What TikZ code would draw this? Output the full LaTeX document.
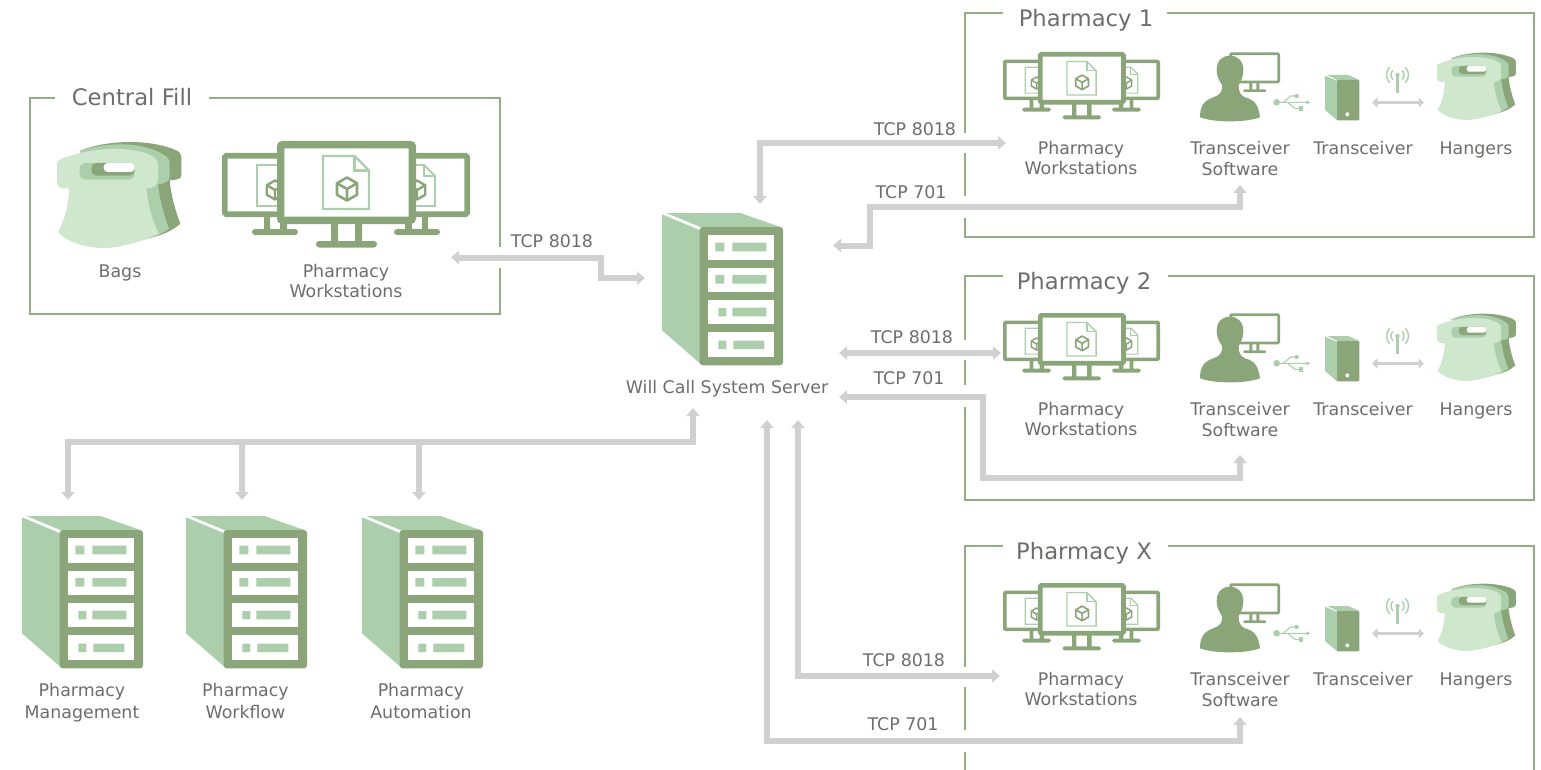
\documentclass[tikz,border=0pt]{standalone}
\usepackage{fontspec}
\setmainfont{DejaVu Sans}
\usetikzlibrary{arrows.meta}
\definecolor{gdark}{HTML}{8AA678}
\definecolor{gmid}{HTML}{ABCFAB}
\definecolor{glight}{HTML}{CFE7CD}
\definecolor{gbox}{HTML}{93AE85}
\definecolor{gconn}{HTML}{D0D0D0}
\definecolor{gtext}{HTML}{6B6E6B}
\newcommand{\wsdoc}[5]{% x y w h fold
  \draw[gmid,fill=white] (#1,#2) -- ({#1+#3-#5},#2) -- ({#1+#3},{#2+#5}) -- ({#1+#3},{#2+#4}) -- (#1,{#2+#4}) -- cycle;
  \draw[gmid] ({#1+#3-#5},#2) -- ({#1+#3-#5},{#2+#5}) -- ({#1+#3},{#2+#5});
}
\newcommand{\wscube}[3]{% cx cy r
  \draw[gdark,line join=round] (#1,{#2-#3}) -- ({#1+.87*#3},{#2-.5*#3}) -- ({#1+.87*#3},{#2+.5*#3}) -- (#1,{#2+#3}) -- ({#1-.87*#3},{#2+.5*#3}) -- ({#1-.87*#3},{#2-.5*#3}) -- cycle;
  \draw[gdark,line join=round] ({#1-.87*#3},{#2-.5*#3}) -- (#1,#2) -- ({#1+.87*#3},{#2-.5*#3}) (#1,#2) -- (#1,{#2+#3});
}
\tikzset{
  x=1pt,y=-1pt,
  lbl/.style={font=\fontsize{17.4}{21}\selectfont,text=gtext,align=center,inner sep=0pt,yshift=-2pt},
  ttl/.style={font=\fontsize{22.7}{26}\selectfont,text=gtext,inner sep=0pt,yshift=-3pt},
  boxline/.style={gbox,line width=1.1pt},
  conn/.style={gconn,line width=6pt,miter limit=10,-{Triangle[length=8pt,width=13pt]}},
  conntwo/.style={gconn,line width=6pt,miter limit=10,{Triangle[length=8pt,width=13pt]}-{Triangle[length=8pt,width=13pt]}},
  pics/wstation/.style={code={
    \begin{scope}[scale=#1]
      \foreach \m in {0,1}{
        \begin{scope}[shift={(\m*248,0)},xscale={1-2*\m}]
          \fill[gdark] (42,76) rectangle (48,90) (58,76) rectangle (65,90);
          \fill[gdark,rounded corners=#1*3pt] (30,88) rectangle (76,94);
          \draw[gdark,fill=white,line width=#1*5.6pt,rounded corners=#1*1.5pt] (2.8,14.8) rectangle (70,73.2);
        \end{scope}
      }
      \begin{scope}[line width=#1*1.9pt]
        \wsdoc{35}{24}{36}{41}{11}
        \wsdoc{177}{24}{36}{41}{11}
      \end{scope}
      \begin{scope}[line width=#1*2.4pt]
        \wscube{53}{49}{9.5}
        \wscube{195}{49}{9.5}
      \end{scope}
      \fill[gdark] (109,80) rectangle (116,102) (133,80) rectangle (140,102);
      \fill[gdark,rounded corners=#1*3pt] (94,100) rectangle (155,106.5);
      \draw[gdark,fill=white,line width=#1*7.4pt,rounded corners=#1*2pt] (58.7,3.7) rectangle (190.3,79.3);
      \begin{scope}[line width=#1*2.2pt]
        \wsdoc{101}{15}{46}{53}{14.5}
      \end{scope}
      \begin{scope}[line width=#1*2.6pt]
        \wscube{125}{48}{11.5}
      \end{scope}
    \end{scope}
  }},
  pics/bagicon/.style={code={
    \begin{scope}[scale=#1/3,shift={(-82,-62)}]
      \fill[gdark] (150,92) .. controls (230,58) and (360,55) .. (440,90) .. controls (450,95) and (455,100) .. (455,110) -- (455,165) .. controls (455,175) and (445,178) .. (420,180) .. controls (425,230) and (440,280) .. (452,310) .. controls (430,330) and (400,345) .. (350,355) -- cycle;
      \fill[gmid] (150,92) .. controls (230,65) and (340,62) .. (405,105) .. controls (415,112) and (420,118) .. (420,130) -- (420,170) .. controls (420,182) and (405,190) .. (385,192) .. controls (390,240) and (405,290) .. (418,325) .. controls (390,345) and (360,355) .. (300,370) -- cycle;
      \fill[glight] (82,125) .. controls (82,115) and (180,82) .. (270,86) .. controls (330,88) and (385,105) .. (385,130) -- (385,175) .. controls (385,192) and (375,204) .. (350,204) .. controls (355,260) and (372,310) .. (388,340) .. controls (330,365) and (270,383) .. (220,383) .. controls (170,383) and (110,365) .. (85,335) .. controls (105,300) and (118,250) .. (118,204) -- (100,204) .. controls (88,204) and (82,195) .. (82,185) -- cycle;
      \fill[gmid,rounded corners=#1*6pt] (150,128) rectangle (315,178);
      \fill[gdark,rounded corners=#1*5pt] (185,128) rectangle (315,166);
      \fill[white,rounded corners=#1*4pt] (222,128) rectangle (315,155);
    \end{scope}
  }},
  pics/servericon/.style={code={
    \begin{scope}[scale=1/3,shift={(-65,-38)}]
      \fill[gmid] (65,42) -- (180,90) -- (180,490) -- (65,390) -- cycle;
      \fill[gmid] (78,38) -- (300,38) -- (420,80) -- (180,80) -- cycle;
      \fill[gdark,rounded corners=3pt] (178,80) rectangle (428,495);
      \foreach \yy in {105,202,299,396} \fill[white] (202,\yy) rectangle (402,\yy+73);
      \fill[gmid] (225,127) rectangle (252,153) (276,127) rectangle (378,153);
      \fill[gmid] (225,224) rectangle (252,250) (276,224) rectangle (378,250);
      \fill[gmid] (234,323) rectangle (258,348) (276,322) rectangle (378,348);
      \fill[gmid] (234,421) rectangle (258,446) (279,421) rectangle (372,446);
    \end{scope}
  }},
  pics/transicons/.style={code={
    \begin{scope}[scale=1/3]
      % monitor behind the person
      \fill[gdark] (178,128) rectangle (187,150) (199,128) rectangle (208,150);
      \fill[gdark,rounded corners=1pt] (160,148) rectangle (228,156);
      \draw[gdark,fill=white,line width=2.7pt,rounded corners=1pt] (122,41) rectangle (266,126);
      % person
      \fill[gdark] (80,90) .. controls (80,60) and (98,47) .. (120,47) .. controls (145,47) and (160,65) .. (160,90) .. controls (160,110) and (152,125) .. (146,135) .. controls (146,155) and (150,165) .. (165,172) .. controls (195,180) and (205,195) .. (210,232) .. controls (180,242) and (150,244) .. (120,244) .. controls (90,244) and (60,242) .. (30,232) .. controls (30,200) and (40,182) .. (70,172) .. controls (90,165) and (98,155) .. (96,135) .. controls (88,122) and (80,110) .. (80,90) -- cycle;
      % usb
      \fill[gmid] (260,187) circle (10);
      \draw[gmid,line width=1.1pt] (260,187) -- (350,187) (280,187) -- (302,168) -- (315,168) (292,187) -- (315,205) -- (330,205);
      \fill[gmid] (320,168) circle (6.5);
      \fill[gmid] (326,199) rectangle (340,212);
      \fill[gmid] (361,187) -- (349,181) -- (349,193) -- cycle;
      % transceiver box
      \fill[gmid] (405,107) -- (440,122) -- (440,240) -- (405,210) -- cycle;
      \fill[gmid] (412,105) -- (475,105) -- (508,120) -- (442,120) -- cycle;
      \fill[gdark,rounded corners=1pt] (440,120) rectangle (508,241);
      \fill[white] (472,223) circle (6);
    \end{scope}
  }},
  pics/antennaicon/.style={code={
    \begin{scope}[gmid,line width=1.4pt]
      \draw[line width=2.6pt] (0,0) -- (0,18);
      \fill (0,0) circle (2.2);
      \draw (-4.6,4.6) arc[start angle=135,end angle=225,radius=6.5];
      \draw (4.6,4.6) arc[start angle=45,end angle=-45,radius=6.5];
      \draw (-7.8,7.8) arc[start angle=135,end angle=225,radius=11];
      \draw (7.8,7.8) arc[start angle=45,end angle=-45,radius=11];
    \end{scope}
  }}
}
\begin{document}
\begin{tikzpicture}
\useasboundingbox (0,0) rectangle (1541,770);
% group frames
\draw[boxline] (55,98) -- (30,98) -- (30,314) -- (500,314) -- (500,268);
\draw[boxline] (500,247) -- (500,98) -- (209,98);
\node[ttl] (tcentral) at (132,97) {\strut Central Fill};
\draw[boxline] (1003,13) -- (965,13) -- (965,133);
\draw[boxline] (965,153) -- (965,196);
\draw[boxline] (965,218) -- (965,237) -- (1534,237) -- (1534,13) -- (1167,13);
\node[ttl] (tp1) at (1086,18) {\strut Pharmacy 1};
\draw[boxline] (1003,276) -- (965,276) -- (965,340);
\draw[boxline] (965,360) -- (965,385);
\draw[boxline] (965,407) -- (965,500) -- (1534,500) -- (1534,276) -- (1168,276);
\node[ttl] (tp2) at (1084,281) {\strut Pharmacy 2};
\draw[boxline] (1003,546) -- (965,546) -- (965,667);
\draw[boxline] (965,687) -- (965,730);
\draw[boxline] (965,752) -- (965,770);
\draw[boxline] (1534,770) -- (1534,546) -- (1168,546);
\node[ttl] (tpx) at (1084,551) {\strut Pharmacy X};
% central fill
\pic at (57,141) {bagicon=1};
\pic at (222,141) {wstation=1};
\node[lbl] (bags) at (120,271) {\strut Bags};
\node[lbl] (cws) at (346,281) {\strut Pharmacy\\[-1pt]\strut Workstations};
% main server and backends
\pic at (662,213) {servericon};
\node[lbl] (srv) at (727,387) {\strut Will Call System Server};
\pic at (22,516) {servericon};
\pic at (186,516) {servericon};
\pic at (362,516) {servericon};
\node[lbl] (pm) at (82,701) {\strut Pharmacy\\[1pt]\strut Management};
\node[lbl] (pf) at (245.5,701) {\strut Pharmacy\\[1pt]\strut Workflow};
\node[lbl] (pa) at (421,701) {\strut Pharmacy\\[1pt]\strut Automation};
% pharmacy contents
\foreach \dy/\n in {0/a,261/b,531/c}{
  \begin{scope}[shift={(0,\dy)}]
    \pic at (1003,52) {wstation=0.633};
    \pic at (1190,40) {transicons};
    \pic at (1397.5,75) {antennaicon};
    \pic at (1437,52) {bagicon=0.635};
    \coordinate (txl\n) at (1372,102.5);
    \coordinate (hgl\n) at (1424,102.5);
    \draw[conntwo,line width=3pt,{Triangle[length=5.5pt,width=10pt]}-{Triangle[length=5.5pt,width=10pt]}] (txl\n) -- (hgl\n);
    \node[lbl] (ws\n) at (1081,158) {\strut Pharmacy\\[-1pt]\strut Workstations};
    \node[lbl] (sw\n) at (1240,158.5) {\strut Transceiver\\\strut Software};
    \node[lbl] (tx\n) at (1363,148) {\strut Transceiver};
    \node[lbl] (hg\n) at (1476,148) {\strut Hangers};
  \end{scope}
}
% connectors
\coordinate (c1a) at (451,257.5);
\coordinate (c1b) at (645,278);
\draw[conntwo] (c1a) -- (601,257.5) -- (601,278) -- (c1b);
\node[lbl] (l1) at (552,241) {\strut TCP 8018};

\coordinate (c2a) at (760,204);
\coordinate (c2b) at (1006,143);
\draw[conntwo] (c2a) -- (760,143) -- (c2b);
\node[lbl] (l2) at (915,129) {\strut TCP 8018};

\coordinate (c3a) at (833,245.5);
\coordinate (c3b) at (1240,185);
\draw[conntwo] (c3a) -- (870,245.5) -- (870,207) -- (1240,207) -- (c3b);
\node[lbl] (l3) at (911,192) {\strut TCP 701};

\coordinate (c4a) at (839,353);
\coordinate (c4b) at (1001,353);
\draw[conntwo] (c4a) -- (c4b);
\node[lbl] (l4) at (912,337) {\strut TCP 8018};

\coordinate (c5a) at (839,397);
\coordinate (c5b) at (1240,455);
\draw[conntwo] (c5a) -- (983,397) -- (983,478) -- (1240,478) -- (c5b);
\node[lbl] (l5) at (909,378) {\strut TCP 701};

\coordinate (c6a) at (798,420);
\coordinate (c6b) at (1000,676);
\draw[conntwo] (c6a) -- (798,676) -- (c6b);
\node[lbl] (l6) at (904,660) {\strut TCP 8018};

\coordinate (c7a) at (767,420);
\coordinate (c7b) at (1240,717);
\draw[conntwo] (c7a) -- (767,741) -- (1240,741) -- (c7b);
\node[lbl] (l7) at (903,724) {\strut TCP 701};

\coordinate (bustop) at (693,408);
\coordinate (busa) at (68,500);
\coordinate (busb) at (242,500);
\coordinate (busc) at (419,500);
\draw[conntwo] (bustop) -- (693,442) -- (68,442) -- (busa);
\draw[conn] (242,442) -- (busb);
\draw[conn] (419,442) -- (busc);
\end{tikzpicture}
\end{document}
